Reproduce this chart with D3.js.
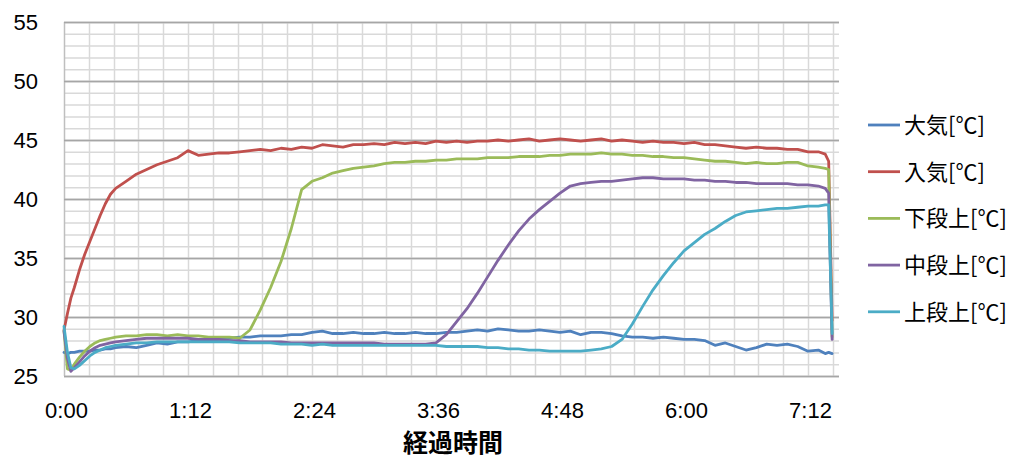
<!DOCTYPE html>
<html><head><meta charset="utf-8">
<script src="https://cdn.jsdelivr.net/npm/d3@7"></script>
<style>
html,body{margin:0;padding:0;background:#fff;}
svg{display:block;}
</style>
</head><body>
<svg id="chart" width="1032" height="459"></svg>
<script>
// elapsed minutes of each sample
const minutes = [0,2,4,6,9,12,15,18,21,24,27,30,
 36,42,48,54,60,66,72,78,84,90,96,102,108,114,120,126,132,138,144,150,156,162,168,174,180,
 186,192,198,204,210,216,222,228,234,240,246,252,258,264,270,276,282,288,294,300,306,312,318,
 324,330,336,342,348,354,360,366,372,378,384,390,396,402,408,414,420,426,432,438,442,444,446];

const seriesNames = ["大気[℃]","入気[℃]","下段上[℃]","中段上[℃]","上段上[℃]"];

const taiki = [27.0,26.9,27.0,27.0,27.1,27.1,27.1,27.2,27.2,27.3,27.3,27.4,
 27.5,27.4,27.6,27.8,27.7,27.9,27.9,28.0,28.0,28.1,28.2,28.3,28.3,28.4,28.4,28.4,28.5,28.5,28.7,28.8,28.6,28.6,28.7,28.6,28.6,
 28.7,28.6,28.6,28.7,28.6,28.6,28.7,28.7,28.8,28.9,28.8,29.0,28.9,28.8,28.8,28.9,28.8,28.7,28.8,28.5,28.7,28.7,28.6,
 28.4,28.3,28.3,28.2,28.3,28.2,28.1,28.1,28.0,27.6,27.8,27.5,27.2,27.4,27.7,27.6,27.7,27.5,27.1,27.2,26.9,27.0,26.9];

const nyuki = [28.9,30.3,31.6,32.5,34.0,35.3,36.4,37.5,38.6,39.6,40.4,40.9,
 41.5,42.1,42.5,42.9,43.2,43.5,44.1,43.7,43.8,43.9,43.9,44.0,44.1,44.2,44.1,44.3,44.2,44.4,44.3,44.6,44.5,44.4,44.6,44.6,44.7,
 44.6,44.8,44.7,44.8,44.7,44.9,44.8,44.9,44.8,44.9,44.9,45.0,44.9,45.0,45.1,44.9,45.0,45.1,45.0,44.9,45.0,45.1,44.9,
 45.0,44.9,44.8,44.9,44.8,44.8,44.7,44.8,44.6,44.6,44.5,44.4,44.3,44.4,44.3,44.3,44.2,44.2,44.0,44.0,43.8,43.2,29.7];

const gedan = [28.8,25.6,25.5,26.0,26.6,27.1,27.5,27.8,28.0,28.1,28.2,28.3,
 28.4,28.4,28.5,28.5,28.4,28.5,28.4,28.4,28.3,28.3,28.3,28.2,28.9,30.6,32.5,34.7,37.5,40.8,41.5,41.8,42.2,42.4,42.6,42.7,42.8,
 43.0,43.1,43.1,43.2,43.2,43.3,43.3,43.4,43.4,43.4,43.5,43.5,43.5,43.6,43.6,43.6,43.7,43.7,43.8,43.8,43.8,43.9,43.8,
 43.8,43.7,43.7,43.6,43.6,43.5,43.5,43.4,43.3,43.2,43.2,43.1,43.0,43.1,43.0,43.0,43.1,43.1,42.8,42.7,42.6,42.5,28.3];

const chudan = [28.8,26.5,25.4,25.7,26.2,26.7,27.1,27.4,27.6,27.7,27.8,27.9,
 28.0,28.1,28.2,28.2,28.2,28.2,28.2,28.1,28.1,28.1,28.0,28.0,27.9,27.9,27.9,27.9,27.8,27.8,27.8,27.8,27.8,27.8,27.8,27.8,27.8,
 27.7,27.7,27.7,27.7,27.7,27.8,28.5,29.6,30.7,32.0,33.4,34.8,36.1,37.3,38.3,39.1,39.8,40.5,41.1,41.3,41.4,41.5,41.5,
 41.6,41.7,41.8,41.8,41.7,41.7,41.7,41.6,41.6,41.5,41.5,41.4,41.4,41.3,41.3,41.3,41.3,41.2,41.2,41.1,40.9,40.5,28.1];

const jodan = [29.2,27.0,25.7,25.6,25.9,26.3,26.7,27.0,27.2,27.4,27.5,27.6,
 27.7,27.8,27.8,27.9,27.9,27.9,27.9,27.9,27.9,27.9,27.9,27.8,27.8,27.8,27.8,27.7,27.7,27.7,27.6,27.7,27.6,27.6,27.6,27.6,27.6,
 27.6,27.6,27.6,27.6,27.6,27.6,27.5,27.5,27.5,27.5,27.4,27.4,27.3,27.3,27.2,27.2,27.1,27.1,27.1,27.1,27.2,27.3,27.5,
 28.1,29.4,30.9,32.3,33.5,34.6,35.6,36.3,37.0,37.5,38.1,38.6,38.9,39.0,39.1,39.2,39.2,39.3,39.4,39.4,39.5,39.5,28.6];

const seriesColors = ["#4F81BD","#C0504D","#9BBB59","#8064A2","#4BACC6"];
const seriesValues = [taiki, nyuki, gedan, chudan, jodan];

const xTickMinutes = [0,72,144,216,288,360,432];
const xTickLabels = ["0:00","1:12","2:24","3:36","4:48","6:00","7:12"];
const yTicks = [25,30,35,40,45,50,55];
const xTitle = "経過時間";

const svg = d3.select("#chart");
const L = 64, R = 839, T = 22, B = 376;
const x = d3.scaleLinear().domain([0,450]).range([L,R]);
const y = d3.scaleLinear().domain([25,55]).range([B,T]);

// minor horizontal grid
const g = svg.append("g");
g.selectAll("line.hmin").data(d3.range(25,56,1)).join("line")
  .attr("x1",L).attr("x2",R)
  .attr("y1",d=>y(d)+0.5).attr("y2",d=>y(d)+0.5)
  .attr("stroke",d=> d%5===0 ? "#a6a6a6" : "#d9d9d9")
  .attr("stroke-width",d=> d%5===0 ? 1.3 : 1.5);
// vertical grid
g.selectAll("line.v").data(d3.range(0,447,14.4)).join("line")
  .attr("x1",d=>Math.round(x(d))+0.5).attr("x2",d=>Math.round(x(d))+0.5)
  .attr("y1",T).attr("y2",B)
  .attr("stroke",(d,i)=> i===0 ? "#bfbfbf" : "#d9d9d9")
  .attr("stroke-width",1.5);
// redraw major horizontals on top of verticals
g.selectAll("line.hmaj").data(yTicks).join("line")
  .attr("x1",L).attr("x2",R)
  .attr("y1",d=>y(d)+0.5).attr("y2",d=>y(d)+0.5)
  .attr("stroke","#a6a6a6").attr("stroke-width",1.3);

// axes (labels only)
const yAxis = d3.axisLeft(y).tickValues(yTicks).tickSize(0).tickPadding(0).tickFormat(d3.format("d"));
const ya = svg.append("g").attr("transform","translate(38,0)").call(yAxis);
ya.select(".domain").remove();
ya.selectAll("text").attr("font-family","'Liberation Sans', Arial, sans-serif").attr("font-size",22).attr("fill","#000");

const xAxis = d3.axisBottom(x).tickValues(xTickMinutes).tickSize(0).tickPadding(0)
  .tickFormat((d,i)=>xTickLabels[i]);
const xa = svg.append("g").attr("transform","translate(2,402)").call(xAxis);
xa.select(".domain").remove();
xa.selectAll("text").attr("font-family","'Liberation Sans', Arial, sans-serif").attr("font-size",22).attr("fill","#000");

// lines
const line = d3.line().x((d,i)=>x(minutes[i])).y(d=>y(d)).curve(d3.curveLinear);
seriesValues.forEach((vals,k)=>{
  svg.append("path").datum(vals)
    .attr("d",line).attr("fill","none")
    .attr("stroke",seriesColors[k]).attr("stroke-width",2.8)
    .attr("stroke-linejoin","round").attr("stroke-linecap","round");
});

// x title
svg.append("text").attr("x",453).attr("y",452).attr("text-anchor","middle")
  .attr("font-family","'Noto Sans CJK JP', sans-serif").attr("font-weight","bold")
  .attr("font-size",25).attr("fill","#000").text(xTitle);

// legend
const lg = svg.append("g");
seriesNames.forEach((name,k)=>{
  const cy = 125 + k*46.7;
  lg.append("line").attr("x1",868).attr("x2",900).attr("y1",cy).attr("y2",cy)
    .attr("stroke",seriesColors[k]).attr("stroke-width",2.8);
  lg.append("text").attr("x",904).attr("y",cy).attr("dy","0.36em")
    .attr("font-family","'Noto Sans CJK JP', sans-serif").attr("font-size",22)
    .attr("fill","#000").text(name);
});
</script>
</body></html>
